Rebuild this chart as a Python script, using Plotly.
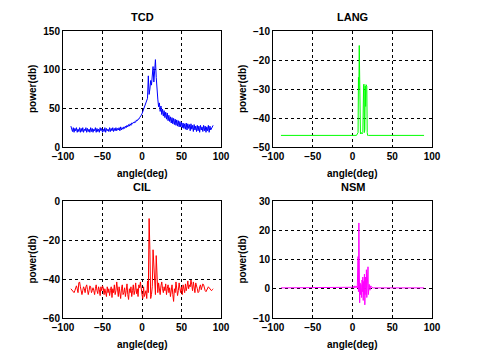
import plotly.graph_objects as go

# angle grid for TCD and CIL (1 deg steps, -90..90)
angle = list(range(-90, 91))

tcd_power = [
    27, 24, 20, 25, 19, 24, 21, 25, 19, 23,
    20, 25, 19, 24, 20, 25, 19, 23, 21, 25,
    19, 24, 20, 23, 19, 25, 20, 24, 19, 23,
    21, 25, 19, 24, 20, 23, 19, 25, 21, 24,
    19, 23, 20, 25, 19, 24, 21, 23, 20, 25,
    20, 24, 21, 25, 20, 24, 21, 25, 21, 24,
    22, 25, 21, 26, 22, 25, 23, 26, 24, 27,
    25, 28, 26, 29, 27, 30, 28, 31, 30, 32,
    31, 33, 32, 35, 34, 36, 36, 38, 39, 41,
    43, 46, 49, 52, 55, 57, 60, 63, 92, 68,
    75, 86, 80, 90, 104, 84, 97, 113, 90, 70,
    62, 52, 57, 46, 53, 42, 49, 40, 47, 38,
    45, 36, 44, 34, 41, 33, 39, 31, 38, 30,
    37, 29, 36, 28, 35, 27, 34, 26, 33, 26,
    32, 25, 31, 24, 30, 23, 31, 22, 30, 24,
    29, 21, 30, 23, 28, 20, 29, 22, 27, 20,
    28, 21, 27, 19, 28, 22, 26, 20, 28, 21,
    27, 19, 26, 21, 28, 19, 27, 22, 25, 26, 28,
]

cil_power = [
    -45, -45.5, -46, -46.5, -47, -46, -44.5, -43.5, -45, -47,
    -42, -41.5, -44, -47.5, -48, -46, -44, -45, -47, -44,
    -43, -45.5, -48, -46, -43.5, -44, -47, -46, -44.5, -46,
    -48, -45, -43, -46, -47.5, -44, -45.5, -48.5, -44, -46,
    -43.5, -44.5, -48, -45, -46.5, -49, -44, -47, -45, -48.5,
    -46, -44, -49.5, -45, -47, -43, -48, -46, -41.5, -47,
    -49, -44, -46.5, -50, -45, -43, -48, -47, -44.5, -49,
    -46, -42.5, -48, -50.5, -45, -47, -44, -49, -46, -43,
    -48, -46, -42, -47.5, -45, -49, -43, -44.5, -41.5, -47,
    -48, -50, -44, -49, -47, -46, -50, -41, -47, -9,
    -25, -50, -48, -44, -25, -35, -43, -48, -28, -45,
    -47, -42, -46, -48, -43.5, -41.5, -45, -47, -44, -46,
    -42.5, -48, -45, -43, -47, -44.5, -49, -46, -43, -48,
    -51.5, -45, -47, -41.5, -44, -48.5, -46, -42, -45, -47,
    -44, -48, -43, -45.5, -47, -42.5, -46, -44, -41, -45,
    -43, -44, -40.5, -43, -46, -41.5, -44, -47, -42, -43,
    -45, -47, -46.5, -44, -43, -45.5, -44, -42.5, -43, -45,
    -46, -46.5, -45.5, -44.5, -44, -44.5, -45, -45.5, -46, -45.5, -45,
]

lang_angle = [-90, 5, 6, 7, 7.5, 8, 8.5, 9, 9.5, 10, 11, 12, 13, 13.5, 14,
              14.5, 15, 15.5, 16, 16.5, 17, 17.5, 18, 18.5, 19, 20, 22, 90]
lang_power = [-46, -46, -45.5, -45, -26, -30, -15, -29, -45, -45.5, -45, -45.5,
              -45, -29, -28.5, -28.3, -45, -44, -29, -36, -28.5, -28.7, -29,
              -45, -46, -46, -46, -46]

nsm_angle = [-90, -2, 0, 1, 2, 3, 4, 5, 6, 7,
             7.5, 8, 8.5, 9, 9.5, 10, 10.5, 11, 11.5, 12, 12.5, 13, 13.5,
             14, 14.5, 15, 15.5, 16, 16.5, 17, 17.5, 18, 18.5, 19, 19.5,
             20, 21, 22, 23, 24, 26, 90]
nsm_power = [0.3, 0.3, 0.5, 0.8, 0.2, 1, 0.4, 0.9, 0.2, 11,
             -1, 22.5, 3, -4.8, 2, -2, 1.5, 0.5, -3, 3, -1, 4, -4,
             2.5, -2, 5, -5.5, 1, 4, -2, 6.5, -3, 2, -1, 7.5,
             -2, 1.5, -0.5, 1, 0.5, 0.3, 0.3]

# page body has an 8px margin, so the figure is a bit smaller and positions are shifted
OFF = 8
W, H = 480 - OFF, 360 - OFF
FONT = "Liberation Sans"


def px(x):
    return (x - OFF) / W


def py(y):
    return 1 - (y - OFF) / H


# panel boxes in window pixels: (left, right, top, bottom)
panels = [
    ("TCD", angle, tcd_power, "#0000ff", (63, 221, 31, 147), [0, 150], 50),
    ("LANG", lang_angle, lang_power, "#00ff00", (273, 432, 31, 147), [-50, -10], 10),
    ("CIL", angle, cil_power, "#ff0000", (63, 221, 201, 318), [-60, 0], 20),
    ("NSM", nsm_angle, nsm_power, "#ff00ff", (273, 432, 201, 318), [-10, 30], 10),
]

fig = go.Figure()
annotations = []


def label(text, x, y, size, rot=0):
    return dict(text=text, x=px(x), y=py(y), xref="paper", yref="paper",
                xanchor="center", yanchor="middle", showarrow=False, textangle=rot,
                font=dict(family=FONT, size=size, color="black", weight="bold"))


for i, (name, xs, ys, color, box, yr, dy) in enumerate(panels):
    n = "" if i == 0 else str(i + 1)
    l, r, t, b = box
    fig.add_trace(go.Scatter(x=xs, y=ys, mode="lines",
                             line=dict(color=color, width=1),
                             xaxis="x" + n, yaxis="y" + n, showlegend=False))
    common = dict(showline=True, linecolor="black", linewidth=1, mirror=True,
                  showgrid=True, gridcolor="black", gridwidth=1, griddash="3px,3px",
                  zeroline=False, ticks="", automargin=False,
                  tickfont=dict(family=FONT, size=10, color="black", weight="bold"))
    fig.layout["xaxis" + n] = dict(common, domain=[px(l), px(r)], range=[-100, 100],
                                   dtick=50, anchor="y" + n)
    fig.layout["yaxis" + n] = dict(common, domain=[py(b), py(t)], range=yr,
                                   dtick=dy, anchor="x" + n)
    cx = (l + r) / 2
    annotations.append(label(name, cx, t - 14, 11))
    annotations.append(label("angle(deg)", cx, b + 26, 10))
    annotations.append(label("power(db)", l - 31, (t + b) / 2, 10, -90))

fig.update_layout(width=W, height=H, margin=dict(l=0, r=0, t=0, b=0),
                  paper_bgcolor="white", plot_bgcolor="white",
                  annotations=annotations)

fig.write_html("out.html")
